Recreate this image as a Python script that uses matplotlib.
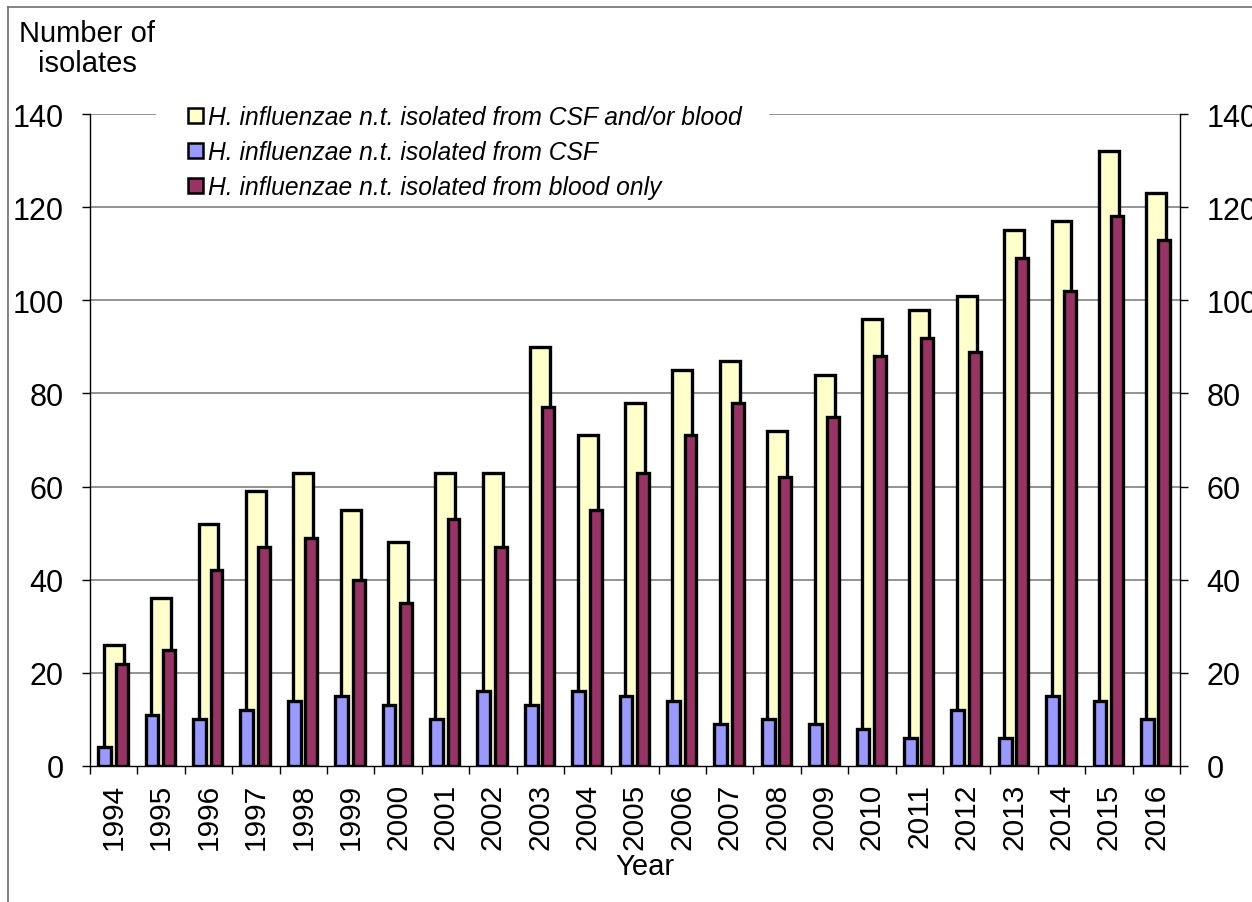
import numpy as np
import matplotlib.pyplot as plt
from matplotlib.lines import Line2D
from matplotlib.patches import Patch

plt.rcParams['font.family'] = ['Liberation Sans', 'DejaVu Sans']

years = [str(y) for y in range(1994, 2017)]
total = [26, 36, 52, 59, 63, 55, 48, 63, 63, 90, 71, 78, 85, 87, 72, 84, 96, 98, 101, 115, 117, 132, 123]
csf = [4, 11, 10, 12, 14, 15, 13, 10, 16, 13, 16, 15, 14, 9, 10, 9, 8, 6, 12, 6, 15, 14, 10]
blood = [22, 25, 42, 47, 49, 40, 35, 53, 47, 77, 55, 63, 71, 78, 62, 75, 88, 92, 89, 109, 102, 118, 113]

labels = ["H. influenzae n.t. isolated from CSF and/or blood",
          "H. influenzae n.t. isolated from CSF",
          "H. influenzae n.t. isolated from blood only"]
colors = ["#FFFFCC", "#9999FF", "#993366"]

W, H = 1252, 903
fig = plt.figure(figsize=(W / 100, H / 100), dpi=100)
ax = fig.add_axes([90 / W, 1 - 767 / H, (1180 - 90) / W, (767 - 115) / H])

x = np.arange(len(years))
ax.bar(x, total, width=0.42, color=colors[0], edgecolor="black", linewidth=2.4, zorder=2)
ax.bar(x - 0.19, csf, width=0.27, color=colors[1], edgecolor="black", linewidth=2.4, zorder=3)
ax.bar(x + 0.17, blood, width=0.25, color=colors[2], edgecolor="black", linewidth=2.4, zorder=3)

ax.set_xlim(-0.5, len(years) - 0.5)
ax.set_ylim(0, 140)
ax.set_yticks(range(0, 141, 20))
# gridlines; the top one is broken where the legend sits
for v in range(20, 140, 20):
    ax.axhline(v, color="#808080", linewidth=1.2, zorder=0)
ax.axhline(140, xmax=(155 - 90) / 1090, color="#808080", linewidth=1.2, zorder=0)
ax.axhline(140, xmin=(770 - 90) / 1090, color="#808080", linewidth=1.2, zorder=0)

# category labels at centres, tick marks between categories
ax.set_xticks(x)
ax.set_xticklabels(years, rotation=90, fontsize=21.5)
ax.set_xticks(np.arange(-0.5, len(years), 1), minor=True)
ax.tick_params(axis="x", which="major", length=0, pad=12)
ax.tick_params(axis="x", which="minor", length=6, width=1, direction="out")
ax.tick_params(axis="y", labelsize=22, length=6, width=1, direction="out", pad=13,
               right=True, labelright=True)

for side in ("left", "right", "bottom"):
    ax.spines[side].set_color("black")
    ax.spines[side].set_linewidth(1)
ax.spines["top"].set_visible(False)

fig.text(645 / W, 1 - 867 / H, "Year", ha="center", va="center", fontsize=21)
fig.text(87 / W, 1 - 20 / H, "Number of\nisolates", ha="center", va="top",
         fontsize=21, linespacing=1.1)

handles = [Patch(facecolor=c, edgecolor="black", linewidth=1.8) for c in colors]
leg = ax.legend(handles, labels, loc="upper left", bbox_to_anchor=(188 / W, 1 - 106 / H),
                bbox_transform=fig.transFigure, prop={"style": "italic", "size": 17.7},
                handlelength=0.6, handleheight=0.6, handletextpad=0.2,
                labelspacing=0.45, borderpad=0, borderaxespad=0, frameon=False)

# outer border of the chart
fig.add_artist(Line2D([8 / W, 8 / W], [0, 1 - 8 / H], color="#707070", linewidth=1.2))
fig.add_artist(Line2D([8 / W, 1], [1 - 8 / H, 1 - 8 / H], color="#707070", linewidth=1.2))

fig.savefig("out.png", dpi=100)
